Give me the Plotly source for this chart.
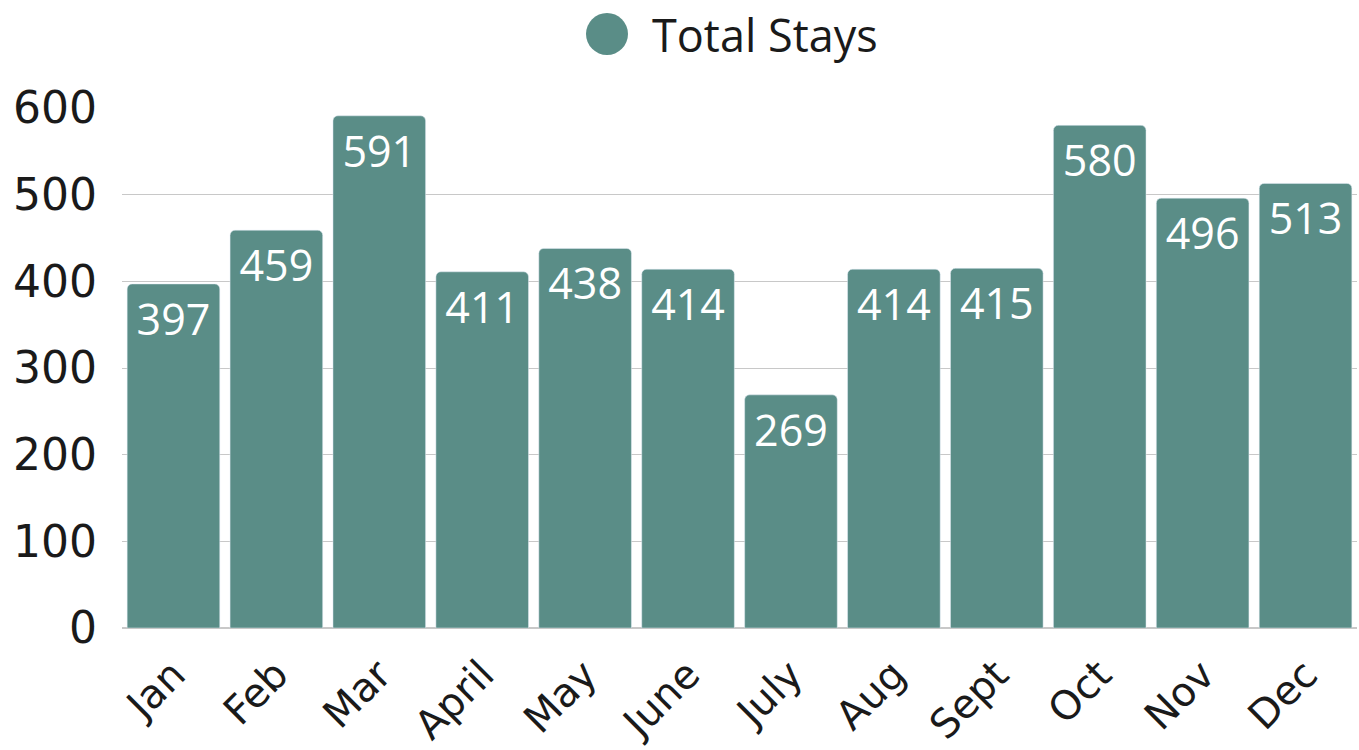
import plotly.graph_objects as go

months = ["Jan", "Feb", "Mar", "April", "May", "June", "July", "Aug", "Sept", "Oct", "Nov", "Dec"]
total_stays = [397, 459, 591, 411, 438, 414, 269, 414, 415, 580, 496, 513]
y_ticks = [0, 100, 200, 300, 400, 500, 600]
series_name = "Total Stays"

teal = "#5a8d87"
tick_font = "'DejaVu Sans', sans-serif"
text_font = "'Open Sans', sans-serif"

W, H = 1359, 750
L, R, T, B = 122, 2, 108, 122
pw, ph = W - L - R, H - T - B

fig = go.Figure()
fig.add_trace(go.Bar(
    x=months, y=total_stays, text=total_stays,
    textposition="inside", insidetextanchor="end",
    textfont=dict(color="white", size=43, family=text_font),
    marker=dict(color=teal, cornerradius=5),
    showlegend=False, name=series_name,
))

# custom legend (large circle marker + label)
leg_y = 1 + (T - 34) / ph
fig.add_shape(type="circle", xref="paper", yref="paper",
              xsizemode="pixel", ysizemode="pixel",
              xanchor=(607 - L) / pw, yanchor=leg_y,
              x0=-21, x1=21, y0=-21, y1=21,
              fillcolor=teal, line=dict(width=0))
fig.add_annotation(text=series_name, xref="paper", yref="paper",
                   x=(650 - L) / pw, y=leg_y,
                   xanchor="left", yanchor="middle", showarrow=False,
                   font=dict(size=45, family=text_font, color="#1a1a1a"))

fig.update_layout(
    width=W, height=H,
    margin=dict(l=L, r=R, t=T, b=B),
    plot_bgcolor="white", paper_bgcolor="white",
    bargap=0.1,
    showlegend=False,
    font=dict(family=tick_font, color="#1a1a1a"),
    xaxis=dict(tickangle=-45, tickfont=dict(size=40, family=tick_font), showgrid=False,
               ticks="", showline=False, automargin=False, ticklabelstandoff=14),
    yaxis=dict(range=[0, 600], tickvals=y_ticks, tickfont=dict(size=44, family=tick_font),
               showgrid=True, gridcolor="#c8c8c8", gridwidth=1, zeroline=True, zerolinecolor="#c8c8c8",
               ticklabelstandoff=24, showline=False, automargin=False),
)

fig.write_html("out.html", config={"displayModeBar": False},
               post_script="document.body.style.margin='0';document.body.style.overflow='hidden';")
